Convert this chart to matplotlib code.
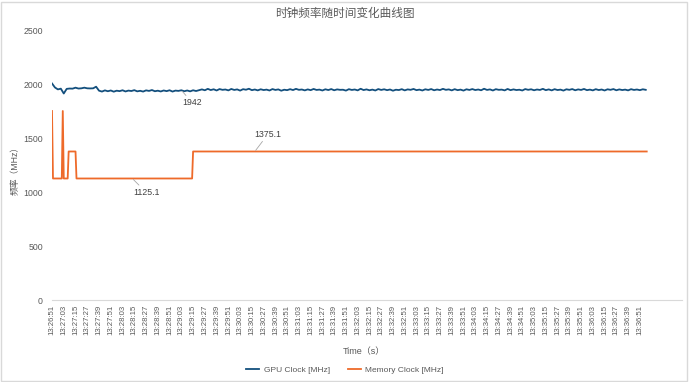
import numpy as np
import matplotlib
matplotlib.use("Agg")
import matplotlib.pyplot as plt
from matplotlib.patches import Rectangle

plt.rcParams['font.family'] = ['Liberation Sans', 'Noto Sans CJK SC', 'DejaVu Sans']

title = "时钟频率随时间变化曲线图"
y_label = "频率（MHz）"
x_label = "Time（s）"
series_names = ["GPU Clock [MHz]", "Memory Clock [MHz]"]

# GPU clock, one sample every 3 seconds
gpu_step = 3
gpu_clock = [
    2005, 1968, 1950, 1957, 1912, 1955, 1958, 1957, 1966, 1958, 1960, 1966, 1960, 1959, 1960, 1975,
    1938, 1930, 1941, 1933, 1940, 1929, 1938, 1934, 1942, 1931, 1939, 1935, 1943, 1932, 1937, 1930,
    1941, 1936, 1944, 1933, 1938, 1931, 1940, 1934, 1942, 1930, 1939, 1936, 1942, 1933, 1940, 1932,
    1942, 1935, 1942,
    1950, 1942, 1955, 1944, 1951, 1940, 1953, 1946, 1949, 1941, 1954, 1945, 1950, 1939, 1952, 1947,
    1956, 1943, 1949, 1941, 1951, 1944, 1948, 1940, 1953, 1945, 1950, 1938, 1947, 1943, 1952, 1944,
    1955, 1946, 1949, 1941, 1950, 1943, 1954, 1945, 1948, 1940, 1951, 1944, 1953, 1942, 1950, 1946,
    1947, 1939, 1952, 1945, 1949, 1941, 1956, 1944, 1950, 1942, 1948, 1940, 1953, 1945, 1951, 1943,
    1949, 1938, 1947, 1944, 1952, 1941, 1950, 1946, 1954, 1943, 1948, 1940, 1951, 1945, 1953, 1942,
    1949, 1944, 1955, 1946, 1950, 1941, 1952, 1943, 1948, 1939, 1951, 1945, 1953, 1944, 1949, 1942,
    1956, 1945, 1950, 1940, 1952, 1946, 1948, 1941, 1954, 1943, 1950, 1944, 1947, 1940, 1953, 1946,
    1951, 1942, 1949, 1945, 1955, 1943, 1950, 1941, 1952, 1944, 1948, 1939, 1951, 1946, 1953, 1942,
    1950, 1945, 1954, 1943, 1948, 1941, 1952, 1944, 1949, 1940, 1951, 1946, 1953, 1942, 1950, 1944,
    1948, 1941, 1952, 1945, 1949, 1943, 1951, 1946,
]

# Memory clock, one sample per second, as runs of constant value
mem_levels = [1750, 1125.1, 1750, 1125.1, 1375.1, 1125.1, 1375.1]
mem_runs = [1, 10, 1, 5, 8, 119, 464]

tick_labels = [
    "13:26:51",
    "13:27:03", "13:27:15", "13:27:27", "13:27:39", "13:27:51",
    "13:28:03", "13:28:15", "13:28:27", "13:28:39", "13:28:51",
    "13:29:03", "13:29:15", "13:29:27", "13:29:39", "13:29:51",
    "13:30:03", "13:30:15", "13:30:27", "13:30:39", "13:30:51",
    "13:31:03", "13:31:15", "13:31:27", "13:31:39", "13:31:51",
    "13:32:03", "13:32:15", "13:32:27", "13:32:39", "13:32:51",
    "13:33:03", "13:33:15", "13:33:27", "13:33:39", "13:33:51",
    "13:34:03", "13:34:15", "13:34:27", "13:34:39", "13:34:51",
    "13:35:03", "13:35:15", "13:35:27", "13:35:39", "13:35:51",
    "13:36:03", "13:36:15", "13:36:27", "13:36:39", "13:36:51",
]
tick_every = 12
y_ticks = [0, 500, 1000, 1500, 2000, 2500]

# labelled points (sample index)
gpu_label_idx = 44
mem_label_secs = [82, 207]

gpu_color = "#134F7D"
mem_color = "#EE6A2A"
text_color = "#595959"

fig = plt.figure(figsize=(6.9, 3.82), dpi=100)
ax = fig.add_axes([52 / 690, 1 - 300 / 382, (682 - 52) / 690, 270 / 382])

gpu_t = np.arange(len(gpu_clock)) * gpu_step
mem = np.repeat(mem_levels, mem_runs)
mem_t = np.arange(len(mem))

ax.plot(gpu_t, gpu_clock, color=gpu_color, lw=1.3, label=series_names[0], solid_joinstyle='round')
ax.plot(mem_t, mem, color=mem_color, lw=1.3, label=series_names[1])

ax.set_xlim(0, 643)
ax.set_ylim(0, 2500)
ax.set_yticks(y_ticks)
ax.set_yticklabels([str(v) for v in y_ticks])
ax.set_xticks(np.arange(len(tick_labels)) * tick_every)
ax.set_xticklabels(tick_labels, rotation=90)

for s in ['top', 'right', 'left']:
    ax.spines[s].set_visible(False)
ax.spines['bottom'].set_color('#D9D9D9')
ax.spines['bottom'].set_linewidth(0.8)
ax.tick_params(axis='y', length=0, pad=6.5, labelsize=6.3, labelcolor=text_color)
ax.tick_params(axis='x', length=0, pad=3.5, labelsize=5.6, labelcolor=text_color)

fig.text(0.5, 1 - 14 / 382, title, ha='center', va='center', fontsize=8.4, color=text_color)
fig.text(15 / 690, 1 - 168 / 382, y_label, ha='center', va='center', rotation=90,
         fontsize=6.3, color=text_color)
ax.set_xlabel(x_label, fontsize=6.5, color=text_color, labelpad=4)
ax.xaxis.set_label_coords((364 - 52) / 630, -(347 - 300) / 270)

ap = dict(arrowstyle='-', color='#A6A6A6', lw=0.6, shrinkA=0, shrinkB=1)
gv = gpu_clock[gpu_label_idx]
ax.annotate(f"{gv:g}", xy=(gpu_t[gpu_label_idx], gv), xytext=(8, -9), textcoords='offset points',
            ha='center', va='center', fontsize=6.3, color='#404040', arrowprops=ap)
for s, off in zip(mem_label_secs, [(10, -10), (9.5, 12.5)]):
    ax.annotate(f"{mem[s]:g}", xy=(s, mem[s]), xytext=off, textcoords='offset points',
                ha='center', va='center', fontsize=6.3, color='#404040', arrowprops=ap)

leg = fig.legend(loc='center', bbox_to_anchor=(345 / 690, 1 - 370 / 382), ncol=2, frameon=False,
                 fontsize=6, handlelength=1.6, columnspacing=2.2, handletextpad=0.5)
for t in leg.get_texts():
    t.set_color(text_color)

fig.patches.append(Rectangle((0.002, 0.002), 0.994, 0.994, transform=fig.transFigure,
                             fill=False, edgecolor='#D9D9D9', lw=1))

fig.savefig("out.png", dpi=100)
